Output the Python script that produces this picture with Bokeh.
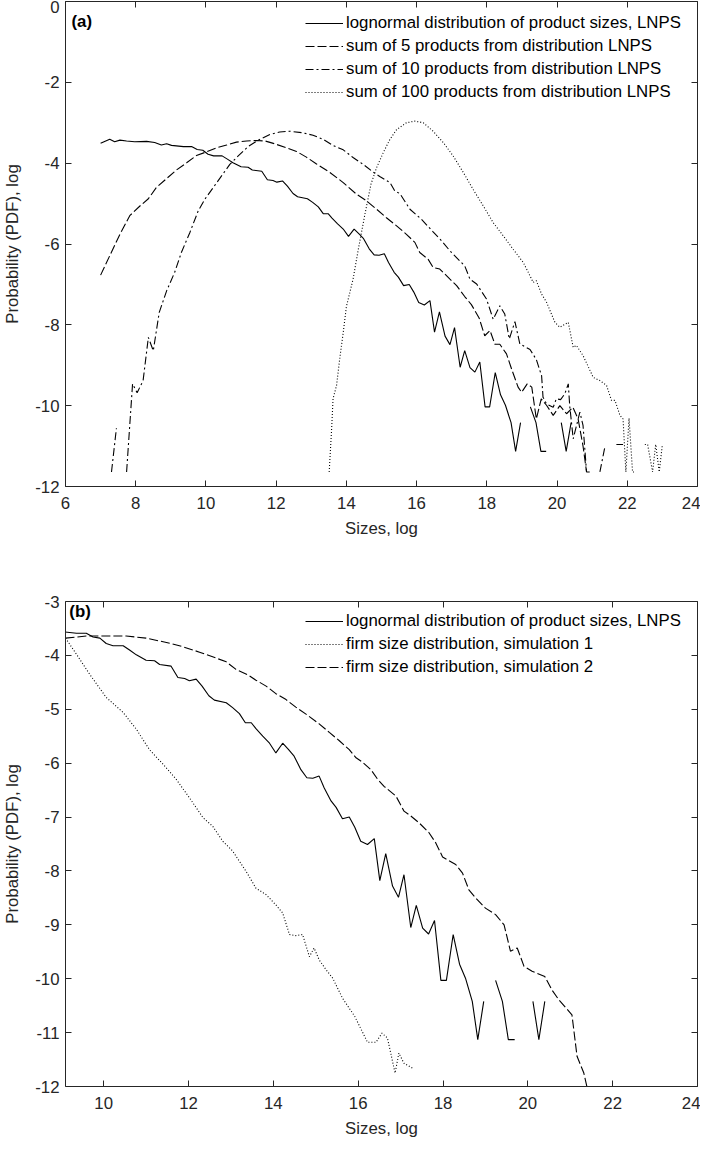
import math
from bokeh.plotting import figure
from bokeh.models import LinearAxis, Legend, LegendItem, Range1d, FixedTicker, Label
from bokeh.layouts import column
from bokeh.embed import file_html
from bokeh.resources import INLINE

nan = float("nan")

# ---------------- data ----------------
# lognormal distribution of product sizes, LNPS (used in both panels)
lnps_x = [7.00, 7.26, 7.40, 7.55, 7.74, 7.97, 8.31, 8.54, 8.73, 8.88, 9.02, 9.36, 9.59, 9.75, 9.91,
          10.06, 10.22, 10.46, 10.61, 10.77, 11.00, 11.20, 11.32, 11.59, 11.75, 11.91, 12.02, 12.18,
          12.32, 12.48, 12.61, 12.89, 13.04, 13.20, 13.34, 13.48, 13.59, 13.75, 13.91, 14.06, 14.22,
          14.36, 14.49, 14.65, 14.79, 14.93, 15.08, 15.20, 15.36, 15.48, 15.63, 15.79, 15.92, 16.06,
          16.22, 16.38, 16.51, 16.65, 16.81, 16.95, 17.08, 17.24, 17.37, 17.52, 17.66, 17.80, 17.95,
          18.08, 18.24, 18.39, 18.53, 18.69, 18.82, 18.96, 19.10, 19.24, 19.40, 19.54, 19.69, 19.90,
          20.12, 20.26, 20.40]
lnps_y = [-3.51, -3.41, -3.47, -3.43, -3.45, -3.47, -3.46, -3.49, -3.55, -3.52, -3.56, -3.59, -3.59, -3.66, -3.68,
          -3.78, -3.82, -3.82, -3.90, -3.99, -4.09, -4.10, -4.17, -4.20, -4.41, -4.43, -4.47, -4.44,
          -4.57, -4.75, -4.83, -4.88, -4.97, -5.08, -5.25, -5.25, -5.36, -5.50, -5.63, -5.81, -5.63,
          -5.75, -5.87, -6.12, -6.27, -6.28, -6.24, -6.46, -6.70, -6.82, -7.03, -7.00, -7.19, -7.45,
          -7.51, -7.40, -8.18, -7.68, -8.28, -8.49, -8.07, -9.05, -8.64, -9.06, -9.17, -8.92, -10.03,
          -10.03, -9.18, -9.73, -9.99, -10.42, -11.13, -10.42, nan, -10.03, -10.42, -11.13, -11.13, nan,
          -10.42, -11.13, -10.42]

# sum of 5 products from distribution LNPS
s5_x = [7.00, 7.26, 7.55, 7.83, 8.12, 8.36, 8.59, 8.88, 9.16, 9.45, 9.73, 10.02, 10.30, 10.59, 10.87,
        11.16, 11.44, 11.68, 11.92, 12.29, 12.58, 12.86, 13.15, 13.53, 13.91, 14.29, 14.57, 14.86,
        15.14, 15.43, 15.71, 15.95, 16.09, 16.33, 16.47, 16.66, 16.95, 17.14, 17.37, 17.56, 17.78,
        17.94, 18.09, 18.23, 18.37, 18.56, 18.72, 18.89, 18.99, 19.15, 19.28, 19.41, 19.55, 19.70,
        19.89, 20.08, 20.27, 20.45, 20.60, 20.74, 20.84, 20.93]
s5_y = [-6.77, -6.29, -5.76, -5.30, -5.06, -4.88, -4.60, -4.38, -4.17, -3.99, -3.81, -3.72, -3.62, -3.55, -3.48,
        -3.45, -3.44, -3.45, -3.51, -3.62, -3.71, -3.85, -4.02, -4.23, -4.48, -4.77, -4.93, -5.14,
        -5.35, -5.55, -5.76, -5.96, -6.21, -6.38, -6.58, -6.62, -6.87, -7.03, -7.30, -7.50, -7.83,
        -8.27, -8.14, -8.48, -8.48, -8.72, -9.13, -9.54, -9.67, -9.46, -9.54, -10.33, -9.83, -9.99,
        -10.24, -10.00, -10.20, -10.04, -10.33, -11.00, -11.64, -11.64]

# sum of 10 products from distribution LNPS
s10_x = [7.31, 7.45, nan, 7.74, 7.91, 8.04, 8.21, 8.36, 8.50, 8.67, 8.88, 9.11, 9.30, 9.54, 9.78, 9.97,
         10.21, 10.44, 10.68, 10.92, 11.20, 11.49, 11.82, 12.10, 12.39, 12.77, 13.05, 13.34, 13.62,
         13.91, 14.19, 14.48, 14.76, 14.95, 15.24, 15.38, 15.52, 15.81, 16.14, 16.47, 16.71, 16.95,
         17.23, 17.37, 17.52, 17.71, 17.99, 18.18, 18.37, 18.51, 18.64, 18.80, 18.94, 19.23, 19.41,
         19.56, 19.60, 19.70, 19.89, 19.98, 20.10, 20.22, 20.32, 20.36, 20.46, 20.65, 20.74, 20.84,
         nan, 21.22, 21.36, nan, 21.69, 21.88]
s10_y = [-11.64, -10.56, nan, -11.64, -9.46, -9.68, -9.38, -8.31, -8.64, -7.69, -7.16, -6.70, -6.21, -5.72, -5.18, -4.89,
         -4.60, -4.32, -4.03, -3.82, -3.59, -3.43, -3.29, -3.23, -3.21, -3.25, -3.31, -3.41, -3.56,
         -3.67, -3.86, -4.03, -4.22, -4.33, -4.48, -4.69, -4.75, -5.14, -5.39, -5.70, -5.92, -6.17,
         -6.42, -6.54, -6.87, -6.99, -7.36, -7.86, -7.53, -7.73, -8.35, -7.92, -8.47, -8.61, -8.86,
         -9.26, -9.79, -9.96, -10.04, -9.83, -9.85, -9.71, -9.46, -10.00, -10.82, -10.16, -10.49, -11.64,
         nan, -11.64, -11.03, nan, -10.96, -10.96]

# sum of 100 products from distribution LNPS
s100_x = [13.51, 13.58, 13.62, 13.72, 13.81, 13.91, 14.00, 14.19, 14.34, 14.52, 14.70, 14.86, 15.05,
          15.24, 15.43, 15.71, 15.95, 16.19, 16.47, 16.76, 17.04, 17.33, 17.61, 17.90, 18.18, 18.47,
          18.75, 19.04, 19.18, 19.32, 19.41, 19.56, 19.70, 19.94, 20.08, 20.32, 20.46, 20.55, 20.74,
          21.03, 21.22, 21.41, 21.55, 21.65, 21.79, 21.88, 21.96, 22.05, 22.15, 22.24, nan, 22.50,
          22.58, 22.72, 22.81, 22.91, 23.00]
s100_y = [-11.64, -10.57, -9.83, -9.50, -8.84, -8.19, -7.55, -6.87, -6.13, -5.30, -4.52, -4.11, -3.74,
          -3.41, -3.17, -3.00, -2.96, -3.00, -3.21, -3.49, -3.82, -4.23, -4.65, -5.06, -5.47, -5.80,
          -6.13, -6.46, -6.70, -6.95, -6.91, -7.24, -7.44, -7.94, -8.06, -7.94, -8.56, -8.51, -8.76,
          -9.30, -9.38, -9.50, -9.87, -9.87, -10.24, -10.33, -11.64, -10.31, -11.64, -11.64, nan, -10.96,
          -10.96, -11.64, -10.96, -11.64, -10.96]

# firm size distribution, simulation 1
sim1_x = [9.10, 9.36, 9.67, 10.06, 10.46, 10.77, 11.08, 11.40, 11.71, 12.02, 12.34, 12.57, 12.81, 13.04,
          13.36, 13.59, 13.83, 14.06, 14.22, 14.38, 14.53, 14.69, 14.85, 14.96, 15.08, 15.24, 15.40,
          15.63, 15.92, 16.22, 16.42, 16.56, 16.69, 16.87, 16.96, 17.08, 17.28]
sim1_y = [-3.68, -3.98, -4.35, -4.78, -5.06, -5.37, -5.75, -6.02, -6.30, -6.64, -7.01, -7.17, -7.45, -7.63,
          -8.01, -8.32, -8.44, -8.63, -8.78, -9.18, -9.20, -9.18, -9.59, -9.43, -9.65, -9.83, -9.99,
          -10.36, -10.70, -11.18, -11.18, -11.01, -11.10, -11.75, -11.38, -11.57, -11.66]

# firm size distribution, simulation 2
sim2_x = [9.10, 9.36, 9.59, 10.06, 10.53, 11.00, 11.48, 11.87, 12.26, 12.65, 12.89, 13.12, 13.40, 13.59,
          13.83, 14.06, 14.30, 14.53, 14.77, 15.08, 15.32, 15.55, 15.79, 15.95, 16.10, 16.30, 16.46,
          16.61, 16.89, 17.08, 17.24, 17.44, 17.67, 17.83, 17.99, 18.30, 18.46, 18.61, 18.77, 19.00,
          19.24, 19.44, 19.59, 19.75, 19.91, 20.10, 20.40, 20.57, 20.73, 21.04, 21.16, 21.32, 21.42]
sim2_y = [-3.68, -3.66, -3.64, -3.64, -3.64, -3.68, -3.76, -3.84, -3.94, -4.05, -4.12, -4.26, -4.36, -4.46,
          -4.57, -4.71, -4.82, -4.96, -5.09, -5.27, -5.43, -5.58, -5.75, -5.90, -5.98, -6.12, -6.30,
          -6.43, -6.61, -6.89, -6.98, -7.11, -7.29, -7.48, -7.74, -7.88, -8.04, -8.35, -8.50, -8.69,
          -8.81, -9.00, -9.49, -9.43, -9.77, -9.86, -9.96, -10.21, -10.39, -10.67, -11.44, -11.75, -12.10]

labels_a = ["lognormal distribution of product sizes, LNPS",
            "sum of 5 products from distribution LNPS",
            "sum of 10 products from distribution LNPS",
            "sum of 100 products from distribution LNPS"]
labels_b = ["lognormal distribution of product sizes, LNPS",
            "firm size distribution, simulation 1",
            "firm size distribution, simulation 2"]

xticks_a = [6, 8, 10, 12, 14, 16, 18, 20, 22, 24]
yticks_a = [0, -2, -4, -6, -8, -10, -12]
xticks_b = [10, 12, 14, 16, 18, 20, 22, 24]
yticks_b = [-3, -4, -5, -6, -7, -8, -9, -10, -11, -12]

# ---------------- styling ----------------
FONT = "Liberation Sans"
FS = "16.8px"
AXC = "#262626"
FRAME_W = 632
FRAME_H = 485


def make_fig(xr, yr, xt, yt, top, bottom):
    p = figure(frame_width=FRAME_W, frame_height=FRAME_H,
               x_range=Range1d(*xr), y_range=Range1d(*yr),
               output_backend="svg", toolbar_location=None,
               min_border_left=61, min_border_right=3,
               min_border_top=top, min_border_bottom=bottom)
    p.grid.visible = False
    p.outline_line_color = None
    p.background_fill_color = "white"
    p.border_fill_color = "white"
    p.xaxis.ticker = FixedTicker(ticks=xt)
    p.yaxis.ticker = FixedTicker(ticks=yt)
    p.xaxis.major_label_overrides = {t: str(t) for t in xt}
    p.yaxis.major_label_overrides = {t: str(t) for t in yt}
    p.xaxis.axis_label = "Sizes, log"
    p.yaxis.axis_label = "Probability (PDF), log"
    for ax in (p.xaxis[0], p.yaxis[0]):
        ax.axis_line_color = AXC
        ax.major_tick_line_color = AXC
        ax.major_tick_in = 6
        ax.major_tick_out = 0
        ax.minor_tick_line_color = None
        ax.major_label_text_font = FONT
        ax.major_label_text_font_size = FS
        ax.major_label_text_color = AXC
        ax.axis_label_text_font = FONT
        ax.axis_label_text_font_size = FS
        ax.axis_label_text_font_style = "normal"
        ax.axis_label_text_color = AXC
    p.xaxis.major_label_standoff = 10
    p.xaxis.axis_label_standoff = 7
    p.yaxis.major_label_standoff = 6
    p.yaxis.axis_label_standoff = 10
    for loc, tk in (("above", xt), ("right", yt)):
        ax = LinearAxis(ticker=FixedTicker(ticks=tk))
        ax.major_label_overrides = {t: str(t) for t in tk}
        ax.axis_line_color = AXC
        ax.major_tick_line_color = AXC
        ax.major_tick_in = 6
        ax.major_tick_out = 0
        ax.minor_tick_line_color = None
        ax.major_label_text_font_size = "0px"
        ax.major_label_standoff = 0
        p.add_layout(ax, loc)
    return p


def add_legend(p, items, vx, vy):
    leg = Legend(items=items, location=(vx, vy),
                 label_text_font=FONT, label_text_font_size=FS, label_text_color="black",
                 glyph_width=38, glyph_height=20, label_height=20, label_standoff=3,
                 spacing=3, padding=0, margin=0,
                 border_line_color=None, background_fill_alpha=0)
    p.add_layout(leg, "center")


LW = 1.1

# ---------------- panel (a) ----------------
pa = make_fig((6, 24), (-12, 0), xticks_a, yticks_a, 1, 60)
r1 = pa.line(lnps_x, lnps_y, line_color="black", line_width=LW)
r2 = pa.line(s5_x, s5_y, line_color="black", line_width=LW, line_dash="9 3")
r3 = pa.line(s10_x, s10_y, line_color="black", line_width=LW, line_dash="8 3 2 3")
r4 = pa.line(s100_x, s100_y, line_color="black", line_width=LW, line_dash="1 2")
add_legend(pa, [LegendItem(label=labels_a[0], renderers=[r1]),
                LegendItem(label=labels_a[1], renderers=[r2]),
                LegendItem(label=labels_a[2], renderers=[r3]),
                LegendItem(label=labels_a[3], renderers=[r4])], 240, FRAME_H - 12 - 89)
pa.add_layout(Label(x=6.17, y=-0.49, text="(a)", text_font=FONT, text_font_size=FS,
                    text_font_style="bold", text_color="black", text_baseline="middle"))

# ---------------- panel (b) ----------------
pb = make_fig((9.1, 24), (-12, -3), xticks_b, yticks_b, 55, 56)
q1 = pb.line(lnps_x, lnps_y, line_color="black", line_width=LW)
q2 = pb.line(sim1_x, sim1_y, line_color="black", line_width=LW, line_dash="1 2")
q3 = pb.line(sim2_x, sim2_y, line_color="black", line_width=LW, line_dash="9 3")
add_legend(pb, [LegendItem(label=labels_b[0], renderers=[q1]),
                LegendItem(label=labels_b[1], renderers=[q2]),
                LegendItem(label=labels_b[2], renderers=[q3])], 240, FRAME_H - 10 - 66)
pb.add_layout(Label(x=9.19, y=-3.18, text="(b)", text_font=FONT, text_font_size=FS,
                    text_font_style="bold", text_color="black", text_baseline="middle"))

layout = column(pa, pb, spacing=0)
open("out.html", "w").write(file_html(layout, INLINE))
